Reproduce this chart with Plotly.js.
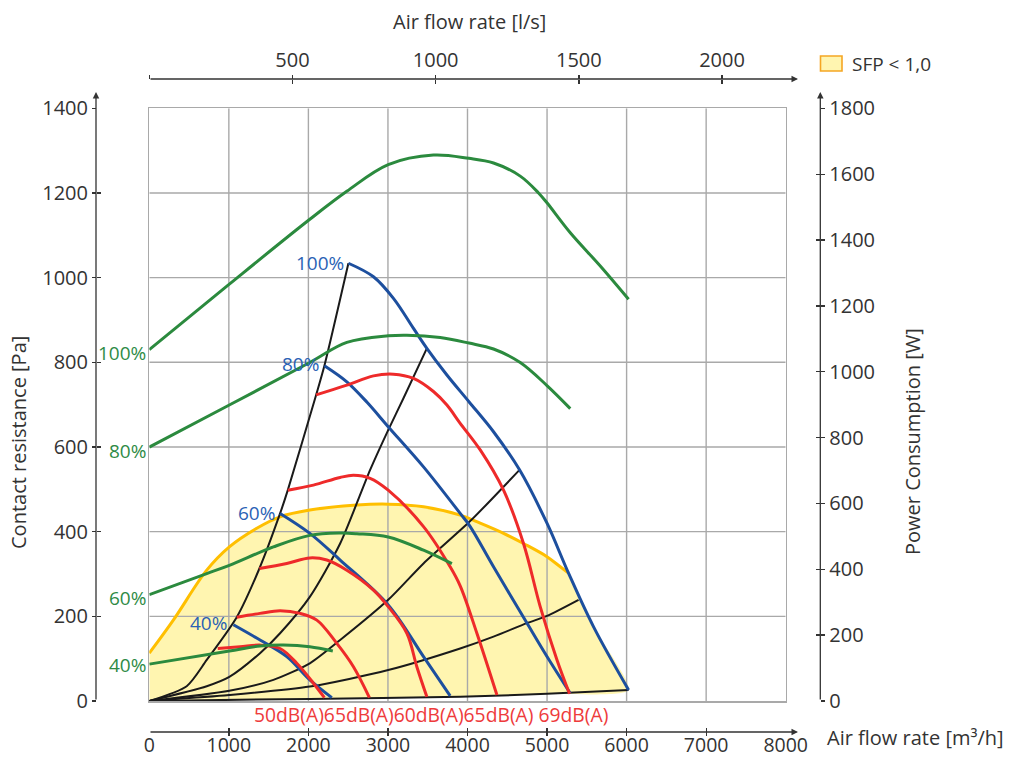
<!DOCTYPE html>
<html>
<head>
<meta charset="utf-8">
<script src="https://cdn.plot.ly/plotly-3.0.1.min.js"></script>
<style>html,body{margin:0;padding:0;background:#fff;}#chart{width:1017px;height:762px;}</style>
</head>
<body>
<div id="chart"></div>
<script>
// ---- Axis ticks ----
const flowTicks = [0,1000,2000,3000,4000,5000,6000,7000,8000];      // m3/h
const lsTicks = [0,500,1000,1500,2000];                              // l/s
const lsLabels = ['','500','1000','1500','2000'];
const paTicks = [0,200,400,600,800,1000,1200,1400];                  // Pa
const wTicks = [0,200,400,600,800,1000,1200,1400,1600,1800];         // W

// ---- Power consumption curves (W, right axis) ----
const pow100X = [0,1006,2018,2483,3003,3572,4018,4327,4663,4893,4999,5292,5669,6025];
const pow100Y = [1067,1266,1463,1548,1629,1658,1648,1634,1594,1543,1513,1422,1321,1220];
const pow80X = [0,1006,2018,2483,3003,3238,3657,4018,4327,4663,4999,5292];
const pow80Y = [771,899,1028,1089,1109,1111,1104,1087,1069,1028,958,888];
const pow60X = [0,722,1006,1560,2018,2399,2609,3003,3447,3804];
const pow60Y = [323,387,412,468,503,510,508,498,458,417];
const pow40X = [0,1006,1392,1686,2018,2307];
const pow40Y = [112,152,167,170,165,152];

// ---- Fan curves (Pa, left axis) ----
const fan100X = [2503,2818,3069,3321,3489,3741,4018,4327,4654,4999,5270,5585,6025];
const fan100Y = [1034,1002,951,880,833,770,707,636,546,420,302,175,26];
const fan80X = [2201,2483,2740,3003,3447,3908,4034,4327,4747,4999,5292];
const fan80Y = [792,754,705,648,553,443,412,317,184,105,18];
const fan60X = [1644,2018,2399,3003,3447,3782];
const fan60Y = [443,396,333,227,105,12];
const fan40X = [1057,1392,1728,2018,2294];
const fan40Y = [180,144,105,50,8];

// ---- Sound level curves (Pa) ----
const snd1X = [2097,2483,2818,3069,3321,3572,3741,3908,4160,4453,4704,4914,5125,5283];
const snd1Y = [723,746,768,772,762,731,699,656,593,498,372,223,97,17];
const snd2X = [1741,2063,2399,2566,2776,3003,3447,3782,3908,4118,4370];
const snd2Y = [498,510,528,533,526,498,412,317,272,160,14];
const snd3X = [1384,1728,2018,2231,2483,2818,3003,3238,3363,3489];
const snd3Y = [313,325,338,333,309,262,223,160,81,10];
const snd4X = [1099,1392,1644,1896,2106,2357,2566,2767];
const snd4Y = [198,207,213,207,191,136,81,8];
const snd5X = [860,1141,1392,1644,1854,2063,2201];
const snd5Y = [124,128,132,124,89,42,8];
const soundLabel = '50dB(A)65dB(A)60dB(A)65dB(A) 69dB(A)';

// ---- System curves (Pa) ----
const sys1X = [0,470,722,1099,1384,1644,1741,2097,2201,2503];
const sys1Y = [0,35,97,198,313,443,498,723,792,1034];
const sys2X = [0,722,1006,1392,1644,2018,2399,2776,3003,3195,3489];
const sys2Y = [0,35,57,113,160,246,372,546,640,715,833];
const sys3X = [0,1006,1560,2018,2399,3003,3447,4034,4654];
const sys3Y = [0,24,50,89,144,239,325,425,546];
const sys4X = [0,1006,2018,3003,3908,4327,4747,4999,5396];
const sys4Y = [0,14,34,73,124,152,184,201,239];
const sys5X = [0,2018,3908,4999,6025];
const sys5Y = [0,5,10,17,26];

// ---- SFP < 1,0 boundary (Pa) ----
const sfpX = [0,302,722,1006,1351,1644,2018,2609,3003,3447,3908,4160,4453,4704,4999,5166,5270];
const sfpY = [113,191,309,364,408,435,451,463,465,459,439,420,396,372,341,317,302];
const sfpName = 'SFP < 1,0';

// ---- colours ----
const GREEN = '#2b8a3e', BLUE = '#1d4f9e', RED = '#ee2a2a', BLACK = '#1a1a1a';
const ORANGE = '#ffbf00', FILL = '#fff5b0', GRID = '#a9a9a9', INK = '#333333';
const FONT = 'Open Sans, Noto Sans, sans-serif';

// SFP area polygon: top boundary, down the 100% fan curve, back along the lowest system curve
const lastSfp = sfpX[sfpX.length-1];
const areaX = [], areaY = [];
sfpX.forEach((v,i)=>{areaX.push(v); areaY.push(sfpY[i]);});
fan100X.forEach((v,i)=>{ if (v > lastSfp) {areaX.push(v); areaY.push(fan100Y[i]);} });
for (let i = sys5X.length-1; i >= 0; i--) { if (sys5X[i] < fan100X[fan100X.length-1]) {areaX.push(sys5X[i]); areaY.push(sys5Y[i]);} }

// grid lines (drawn above the fill)
const gx = [], gy = [];
flowTicks.slice(1,-1).forEach(v=>{gx.push(v,v,null); gy.push(paTicks[0], paTicks[paTicks.length-1], null);});
paTicks.slice(1,-1).forEach(v=>{gx.push(flowTicks[0], flowTicks[flowTicks.length-1], null); gy.push(v,v,null);});

function line(x,y,color,width,axis,sm){
  return {x:x,y:y,type:'scatter',mode:'lines',line:{color:color,width:width,shape:'spline',smoothing:(sm===undefined?1.0:sm)},
          xaxis:'x',yaxis:axis||'y',showlegend:false,hoverinfo:'skip'};
}

const traces = [];
traces.push({x:areaX,y:areaY,type:'scatter',mode:'lines',fill:'toself',fillcolor:FILL,line:{width:0,color:FILL,shape:'spline',smoothing:0.6},
             showlegend:false,hoverinfo:'skip',xaxis:'x',yaxis:'y'});
traces.push({x:gx,y:gy,type:'scatter',mode:'lines',line:{color:GRID,width:1.4},showlegend:false,hoverinfo:'skip',xaxis:'x',yaxis:'y'});
traces.push(line(sfpX,sfpY,ORANGE,3));
[[sys1X,sys1Y],[sys2X,sys2Y],[sys3X,sys3Y],[sys4X,sys4Y],[sys5X,sys5Y]].forEach(s=>traces.push(line(s[0],s[1],BLACK,2,'y',0.7)));
[[pow100X,pow100Y],[pow80X,pow80Y],[pow60X,pow60Y],[pow40X,pow40Y]].forEach(s=>traces.push(line(s[0],s[1],GREEN,3,'y4')));
[[fan100X,fan100Y],[fan80X,fan80Y],[fan60X,fan60Y],[fan40X,fan40Y]].forEach(s=>traces.push(line(s[0],s[1],BLUE,3)));
[[snd1X,snd1Y],[snd2X,snd2Y],[snd3X,snd3Y],[snd4X,snd4Y],[snd5X,snd5Y]].forEach(s=>traces.push(line(s[0],s[1],RED,3)));
// dummy traces so every decorative axis is realised
[['x2','y'],['x3','y'],['x4','y'],['x5','y'],['x','y2'],['x','y3'],['x','y5']].forEach(p=>{
  traces.push({x:[null],y:[null],type:'scatter',mode:'lines',xaxis:p[0],yaxis:p[1],showlegend:false,hoverinfo:'skip'});
});

const W = 1017, H = 762;
const px = v => v / W, py = v => 1 - v / H;
const tickFont = {family:FONT,size:20,color:INK};

const base = {showgrid:false,zeroline:false,fixedrange:true,automargin:false};
const layout = {
  width:W,height:H,margin:{l:0,r:0,t:0,b:0},
  paper_bgcolor:'#ffffff',plot_bgcolor:'rgba(0,0,0,0)',
  font:{family:FONT,color:INK},
  showlegend:false,
  xaxis:Object.assign({},base,{domain:[px(149.3),px(785.7)],range:[0,8000],anchor:'y',showline:true,mirror:true,
        linecolor:GRID,linewidth:1.5,showticklabels:false,ticks:''}),
  yaxis:Object.assign({},base,{domain:[py(701),py(108.3)],range:[0,1400],anchor:'x',showline:true,mirror:true,
        linecolor:GRID,linewidth:1.5,showticklabels:false,ticks:''}),
  // bottom axis: labels (no marks) + crossing tick marks
  xaxis2:Object.assign({},base,{overlaying:'x',anchor:'free',position:py(731),side:'bottom',range:[0,8000],
        tickmode:'array',tickvals:flowTicks,ticks:'',showline:false,tickfont:{family:FONT,size:19.5,color:INK}}),
  xaxis3:Object.assign({},base,{overlaying:'x',anchor:'free',position:py(736),side:'bottom',range:[0,8000],
        tickmode:'array',tickvals:flowTicks,ticks:'inside',ticklen:8,tickwidth:1.3,tickcolor:INK,showline:false,showticklabels:false}),
  xaxis4:Object.assign({},base,{overlaying:'x',anchor:'free',position:py(79),side:'top',range:[0,8000/3.6],
        tickmode:'array',tickvals:lsTicks,ticktext:lsLabels,ticks:'outside',ticklen:4,tickwidth:1.3,tickcolor:INK,showline:false,tickfont:tickFont}),
  xaxis5:Object.assign({},base,{overlaying:'x',anchor:'free',position:py(79),side:'top',range:[0,8000/3.6],
        tickmode:'array',tickvals:lsTicks,ticks:'inside',ticklen:4,tickwidth:1.3,tickcolor:INK,showline:false,showticklabels:false}),
  yaxis2:Object.assign({},base,{overlaying:'y',anchor:'free',position:px(96),side:'left',range:[0,1400],
        tickmode:'array',tickvals:paTicks,ticks:'outside',ticklen:4,tickwidth:1.3,tickcolor:INK,showline:false,tickfont:tickFont}),
  yaxis3:Object.assign({},base,{overlaying:'y',anchor:'free',position:px(96),side:'left',range:[0,1400],
        tickmode:'array',tickvals:paTicks,ticks:'inside',ticklen:4,tickwidth:1.3,tickcolor:INK,showline:false,showticklabels:false}),
  yaxis4:Object.assign({},base,{overlaying:'y',anchor:'free',position:px(820.3),side:'right',range:[0,1800],
        tickmode:'array',tickvals:wTicks,ticks:'outside',ticklen:4,tickwidth:1.3,tickcolor:INK,showline:false,tickfont:tickFont}),
  yaxis5:Object.assign({},base,{overlaying:'y',anchor:'free',position:px(820.3),side:'right',range:[0,1800],
        tickmode:'array',tickvals:wTicks,ticks:'inside',ticklen:4,tickwidth:1.3,tickcolor:INK,showline:false,showticklabels:false}),
  shapes:[
    // legend swatch
    {type:'rect',xref:'paper',yref:'paper',x0:px(820.5),x1:px(842),y0:py(71),y1:py(56),fillcolor:FILL,line:{color:'#f5a623',width:1.6}}
  ],
  annotations:[
    // legend text
    {xref:'paper',yref:'paper',x:px(850),y:py(64),text:sfpName,showarrow:false,xanchor:'left',yanchor:'middle',font:{family:FONT,size:19,color:INK}},
    // axis lines with arrows
    {xref:'paper',yref:'paper',x:px(798),y:py(732),ax:-(798-149),ay:0,showarrow:true,arrowhead:2,arrowsize:1,arrowwidth:1.3,arrowcolor:INK,text:''},
    {xref:'paper',yref:'paper',x:px(798),y:py(79),ax:-(798-149),ay:0,showarrow:true,arrowhead:2,arrowsize:1,arrowwidth:1.3,arrowcolor:INK,text:''},
    {xref:'paper',yref:'paper',x:px(96),y:py(92),ax:0,ay:701-92,showarrow:true,arrowhead:2,arrowsize:1,arrowwidth:1.3,arrowcolor:INK,text:''},
    {xref:'paper',yref:'paper',x:px(820.3),y:py(92),ax:0,ay:701-92,showarrow:true,arrowhead:2,arrowsize:1,arrowwidth:1.3,arrowcolor:INK,text:''},
    // axis titles
    {xref:'paper',yref:'paper',x:px(469),y:py(22),text:'Air flow rate [l/s]',showarrow:false,xanchor:'center',yanchor:'middle',font:{family:FONT,size:20,color:INK}},
    {xref:'paper',yref:'paper',x:px(825),y:py(737),text:'Air flow rate [m³/h]',showarrow:false,xanchor:'left',yanchor:'middle',font:{family:FONT,size:20,color:INK}},
    {xref:'paper',yref:'paper',x:px(18),y:py(443),text:'Contact resistance [Pa]',textangle:-90,showarrow:false,xanchor:'center',yanchor:'middle',font:{family:FONT,size:20,color:INK}},
    {xref:'paper',yref:'paper',x:px(912),y:py(442),text:'Power Consumption [W]',textangle:-90,showarrow:false,xanchor:'center',yanchor:'middle',font:{family:FONT,size:20,color:INK}},
    // sound labels
    {xref:'paper',yref:'paper',x:px(430.5),y:py(714),text:soundLabel,showarrow:false,xanchor:'center',yanchor:'middle',font:{family:FONT,size:19.3,color:'#ee3b3b'}},
    // power labels (green, right axis data)
    {xref:'x',yref:'y4',x:pow100X[0],y:pow100Y[0],text:'100%',showarrow:false,xanchor:'right',yanchor:'middle',xshift:-1,yshift:-3,font:{family:FONT,size:19,color:'#2e8b46'}},
    {xref:'x',yref:'y4',x:pow80X[0],y:pow80Y[0],text:'80%',showarrow:false,xanchor:'right',yanchor:'middle',xshift:-1,yshift:-4,font:{family:FONT,size:19,color:'#2e8b46'}},
    {xref:'x',yref:'y4',x:pow60X[0],y:pow60Y[0],text:'60%',showarrow:false,xanchor:'right',yanchor:'middle',xshift:-1,yshift:-3,font:{family:FONT,size:19,color:'#2e8b46'}},
    {xref:'x',yref:'y4',x:pow40X[0],y:pow40Y[0],text:'40%',showarrow:false,xanchor:'right',yanchor:'middle',xshift:-1,yshift:-1,font:{family:FONT,size:19,color:'#2e8b46'}},
    // fan speed labels (blue)
    {xref:'x',yref:'y',x:fan100X[0],y:fan100Y[0],text:'100%',showarrow:false,xanchor:'right',yanchor:'middle',xshift:-2,yshift:0,font:{family:FONT,size:19,color:'#2a62b5'}},
    {xref:'x',yref:'y',x:fan80X[0],y:fan80Y[0],text:'80%',showarrow:false,xanchor:'right',yanchor:'middle',xshift:-3,yshift:2,font:{family:FONT,size:19,color:'#2a62b5'}},
    {xref:'x',yref:'y',x:fan60X[0],y:fan60Y[0],text:'60%',showarrow:false,xanchor:'right',yanchor:'middle',xshift:-3,yshift:0,font:{family:FONT,size:19,color:'#2a62b5'}},
    {xref:'x',yref:'y',x:fan40X[0],y:fan40Y[0],text:'40%',showarrow:false,xanchor:'right',yanchor:'middle',xshift:-4,yshift:2,font:{family:FONT,size:19,color:'#2a62b5'}}
  ]
};

Plotly.newPlot('chart', traces, layout, {staticPlot:true,displayModeBar:false});
</script>
</body>
</html>
